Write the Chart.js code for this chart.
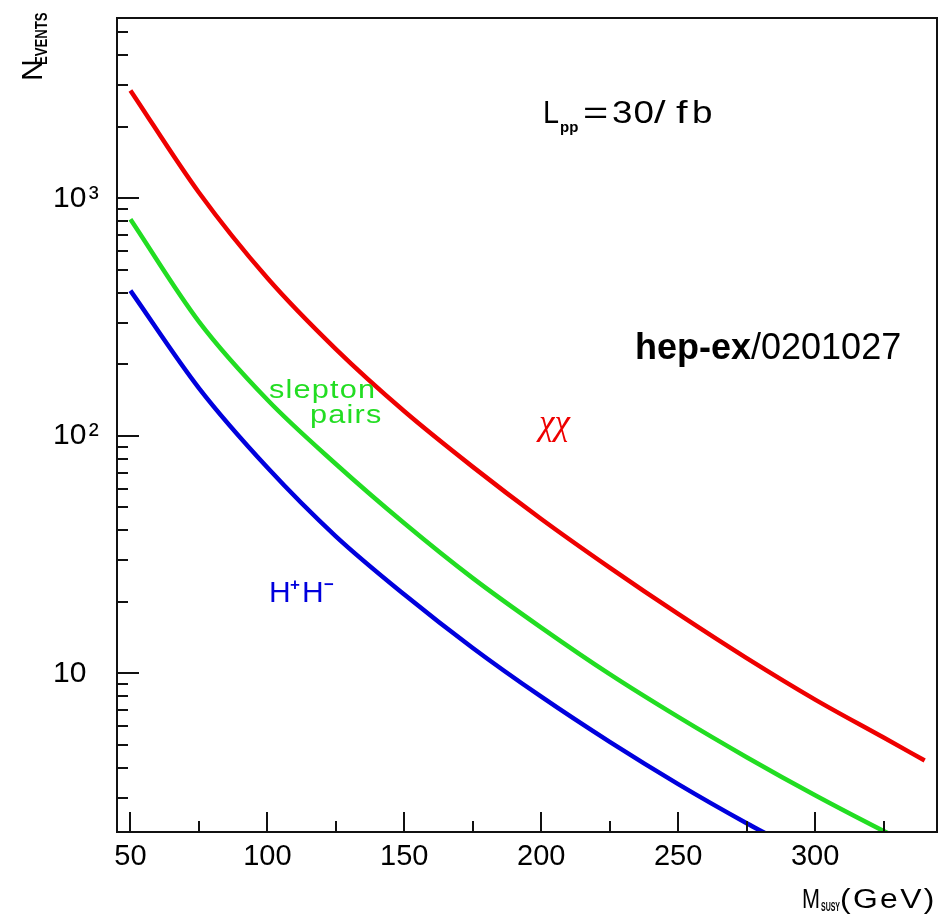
<!DOCTYPE html>
<html><head><meta charset="utf-8">
<script src="https://cdn.jsdelivr.net/npm/chart.js@4.4.1/dist/chart.umd.min.js"></script>
<style>html,body{margin:0;padding:0;background:#fff;} #wrap{width:945px;height:914px;position:relative;}</style>
</head><body><div id="wrap"><canvas id="c" width="945" height="914"></canvas></div>
<script>
// ---- data ----
const massChi = [50, 75, 100, 125, 150, 175, 200, 225, 250, 275, 300, 325, 340];
const nChi = [2850, 1059, 462, 232, 127, 74.1, 44.7, 27.9, 17.8, 11.6, 7.76, 5.37, 4.3];
const massSlepton = [50, 75, 100, 125, 150, 175, 200, 225, 250, 275, 300, 325, 330];
const nSlepton = [817, 303, 142, 76.2, 42.9, 25.2, 15.6, 9.93, 6.56, 4.44, 3.07, 2.17, 2.03];
const massHiggs = [50, 75, 100, 125, 150, 175, 200, 225, 250, 275, 285];
const nHiggs = [409, 159, 73.6, 37.8, 21.5, 12.8, 7.98, 5.15, 3.42, 2.34, 2.03];

const xMajorTicks = [50, 100, 150, 200, 250, 300];
const xMinorTicks = [75, 125, 175, 225, 275, 325];
const yDecadeTicks = [10, 100, 1000];
const yDecadeLabels = ['10', '10\u200A\u00B2', '10\u200A\u00B3'];
const yMinorTicks = [3, 4, 5, 6, 7, 8, 9, 20, 30, 40, 50, 60, 70, 80, 90,
  200, 300, 400, 500, 600, 700, 800, 900, 2000, 3000, 4000, 5000];

const RED = '#ee0000', GREEN = '#22dd22', BLUE = '#0000dd';
const FONT = "'Liberation Sans', Arial, sans-serif";

function pts(xs, ys) { return xs.map((x, i) => ({ x: x, y: ys[i] })); }

function drawParts(ctx, parts) {
  for (const p of parts) {
    ctx.save();
    ctx.font = p.font;
    ctx.fillStyle = p.color || '#000';
    ctx.letterSpacing = p.ls || '0px';
    ctx.textAlign = 'left';
    ctx.textBaseline = 'alphabetic';
    ctx.translate(p.x, p.y);
    ctx.scale(p.sx || 1, 1);
    ctx.fillText(p.t, 0, 0);
    ctx.restore();
  }
}

const framePlugin = {
  id: 'frameTicks',
  afterDatasetsDraw(chart) {
    const ctx = chart.ctx;
    const { left, right, top, bottom } = chart.chartArea;
    const xs = chart.scales.x, ys = chart.scales.y;
    ctx.save();
    ctx.strokeStyle = '#111';
    ctx.lineWidth = 2;
    ctx.beginPath();
    const line = (x1, y1, x2, y2) => { ctx.moveTo(x1, y1); ctx.lineTo(x2, y2); };
    xMajorTicks.forEach(v => { const p = Math.round(xs.getPixelForValue(v)); line(p, bottom, p, bottom - 20); });
    xMinorTicks.forEach(v => { const p = Math.round(xs.getPixelForValue(v)); line(p, bottom, p, bottom - 11); });
    yDecadeTicks.forEach(v => { const p = Math.round(ys.getPixelForValue(v)); line(left, p, left + 22, p); });
    yMinorTicks.forEach(v => { const p = Math.round(ys.getPixelForValue(v)); line(left, p, left + 11, p); });
    ctx.stroke();
    ctx.strokeRect(left, top, right - left, bottom - top);
    ctx.restore();
  }
};

const textPlugin = {
  id: 'annotations',
  afterDraw(chart) {
    const ctx = chart.ctx;
    ctx.save();
    // y-axis title N_EVENTS (rotated)
    ctx.save();
    ctx.translate(42, 81);
    ctx.rotate(-Math.PI / 2);
    drawParts(ctx, [
      { t: 'N', x: 0, y: 0, font: '30px ' + FONT },
      { t: 'EVENTS', x: 16, y: 5, font: 'bold 16px ' + FONT, sx: 0.82 }
    ]);
    ctx.restore();
    // x-axis title M_SUSY(GeV)
    drawParts(ctx, [
      { t: 'M', x: 802, y: 908, font: '27px ' + FONT, sx: 0.8 },
      { t: 'SUSY', x: 821, y: 911, font: 'bold 12px ' + FONT, sx: 0.58 },
      { t: '(GeV)', x: 840, y: 908, font: '27px ' + FONT, sx: 1.18, ls: '2px' }
    ]);
    // luminosity
    drawParts(ctx, [
      { t: 'L', x: 543, y: 123, font: '32px ' + FONT, sx: 0.9 },
      { t: 'pp', x: 560, y: 132, font: 'bold 15px ' + FONT },
      { t: '=', x: 583, y: 123, font: '32px ' + FONT, sx: 1.35 },
      { t: '30', x: 612, y: 123, font: '32px ' + FONT, sx: 1.15, ls: '1px' },
      { t: '/', x: 654, y: 123, font: '32px ' + FONT, sx: 1.3 },
      { t: 'f', x: 676, y: 123, font: '32px ' + FONT, sx: 1.3 },
      { t: 'b', x: 692, y: 123, font: '32px ' + FONT, sx: 1.15 }
    ]);
    // reference
    ctx.font = 'bold 36px ' + FONT;
    const w = ctx.measureText('hep-ex').width;
    drawParts(ctx, [
      { t: 'hep-ex', x: 635, y: 359, font: 'bold 36px ' + FONT },
      { t: '/0201027', x: 635 + w, y: 359, font: '36px ' + FONT }
    ]);
    // curve labels
    drawParts(ctx, [
      { t: '\u03C7\u03C7', x: 539, y: 434, font: 'italic 35px "Liberation Serif", serif', color: RED },
      { t: 'slepton', x: 269, y: 398, font: '26px ' + FONT, color: GREEN, sx: 1.18, ls: '1px' },
      { t: 'pairs', x: 310, y: 423, font: '26px ' + FONT, color: GREEN, sx: 1.18, ls: '1px' },
      { t: 'H', x: 269, y: 602, font: '30px ' + FONT, color: BLUE },
      { t: '+', x: 290, y: 590, font: 'bold 17px ' + FONT, color: BLUE },
      { t: 'H', x: 302, y: 602, font: '30px ' + FONT, color: BLUE },
      { t: '\u2212', x: 324, y: 590, font: 'bold 17px ' + FONT, color: BLUE }
    ]);
    ctx.restore();
  }
};

const ds = (label, xs, ys, color) => ({
  label: label, data: pts(xs, ys), borderColor: color, backgroundColor: color,
  borderWidth: 4.5, pointRadius: 0, fill: false, cubicInterpolationMode: 'monotone', clip: 0
});

new Chart(document.getElementById('c'), {
  type: 'line',
  data: {
    datasets: [
      ds('\u03C7\u03C7', massChi, nChi, RED),
      ds('slepton pairs', massSlepton, nSlepton, GREEN),
      ds('H+H-', massHiggs, nHiggs, BLUE)
    ]
  },
  options: {
    responsive: false, animation: false, devicePixelRatio: 1,
    layout: { padding: { left: 53, top: 10, right: 8, bottom: 0 } },
    plugins: { legend: { display: false }, tooltip: { enabled: false }, title: { display: false } },
    scales: {
      x: {
        type: 'linear', min: 45.1, max: 344.5,
        afterBuildTicks: s => { s.ticks = xMajorTicks.map(v => ({ value: v })); },
        afterFit: s => { s.height = 82; },
        ticks: { color: '#000', font: { family: FONT, size: 29 }, padding: 8, maxRotation: 0, autoSkip: false,
          callback: v => String(v) },
        grid: { display: false, drawTicks: false },
        border: { display: false },
        title: { display: false, text: 'M_SUSY(GeV)' }
      },
      y: {
        type: 'logarithmic', min: 2.15, max: 5750,
        afterBuildTicks: s => { s.ticks = yDecadeTicks.map(v => ({ value: v })); },
        afterFit: s => { s.width = 64; },
        ticks: { color: '#000', font: { family: FONT, size: 30 }, padding: 0, crossAlign: 'far', autoSkip: false,
          callback: v => { const i = yDecadeTicks.indexOf(v); return i >= 0 ? yDecadeLabels[i] : ''; } },
        grid: { display: false, drawTicks: false },
        border: { display: false },
        title: { display: false, text: 'N_EVENTS' }
      }
    }
  },
  plugins: [framePlugin, textPlugin]
});
</script></body></html>
